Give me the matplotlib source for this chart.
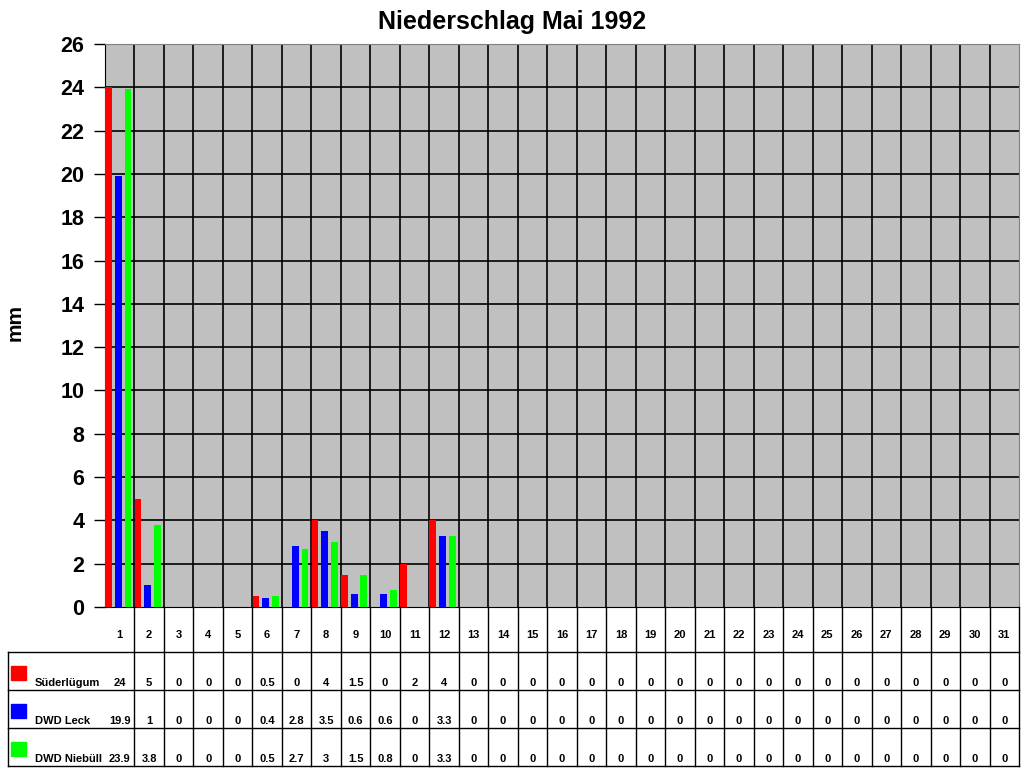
import matplotlib.pyplot as plt
import numpy as np

plt.rcParams['font.family'] = ['Liberation Sans', 'DejaVu Sans']
plt.rcParams['font.weight'] = 'bold'

days = list(range(1, 32))
sued = [24, 5, 0, 0, 0, 0.5, 0, 4, 1.5, 0, 2, 4] + [0] * 19
leck = [19.9, 1, 0, 0, 0, 0.4, 2.8, 3.5, 0.6, 0.6, 0, 3.3] + [0] * 19
nieb = [23.9, 3.8, 0, 0, 0, 0.5, 2.7, 3, 1.5, 0.8, 0, 3.3] + [0] * 19
names = ['Süderlügum', 'DWD Leck', 'DWD Niebüll']
colors = ['#FF0000', '#0000FF', '#00FF00']
yticks = list(range(0, 27, 2))

W, H = 1024, 768
fig = plt.figure(figsize=(W / 100, H / 100), dpi=100)

# plot area in pixels: x 105..1019, y 44..607
L, R, T, B = 105, 1019, 44, 607
ax = fig.add_axes([L / W, 1 - B / H, (R - L) / W, (B - T) / H])
ax.set_facecolor('#C0C0C0')

x = np.array(days)
offs = [-0.38, -0.05, 0.28]
for vals, c, o in zip([sued, leck, nieb], colors, offs):
    ax.bar(x + o, vals, width=0.23, color=c, zorder=3)

ax.set_xlim(0.5, 31.5)
ax.set_ylim(0, 26)
ax.set_yticks(yticks)
ax.set_yticklabels([str(v) for v in yticks], fontsize=15.5, fontweight='bold')
ax.tick_params(axis='y', length=8, width=1, direction='out', pad=7)
ax.set_xticks([])
for v in yticks[1:]:
    ax.axhline(v, color='black', lw=1.2, zorder=1)
for d in days[:-1]:
    ax.axvline(d + 0.5, color='black', lw=1.2, zorder=1)
for s in ['top', 'right']:
    ax.spines[s].set_color('#808080')
ax.spines['left'].set_color('black')
ax.spines['bottom'].set_color('black')
ax.set_ylabel('mm', fontsize=15, fontweight='bold')
ax.yaxis.set_label_coords(-80 / (R - L), 0.505)
fig.suptitle('Niederschlag Mai 1992', fontsize=18, fontweight='bold', y=0.987)

# data table under the chart
tax = fig.add_axes([L / W, 1 - 766 / H, (R - L) / W, (766 - B) / H])
tax.set_xlim(0.5, 31.5)
tax.set_ylim(159, 0)
tax.axis('off')
rows = [0, 45, 83, 121, 159]
left = 0.5 - (L - 8) / ((R - L) / 31)
lk = dict(color='black', lw=1, clip_on=False)
for d in days:
    tax.plot([d + 0.5, d + 0.5], [0, 159], **lk)
    tax.text(d, 28, str(d), ha='center', va='center', fontsize=8, fontweight='bold')
for yv in rows[1:]:
    tax.plot([left, 31.5], [yv, yv], **lk)
tax.plot([left, left], [45, 159], **lk)
for i, (nm, c, vals) in enumerate(zip(names, colors, [sued, leck, nieb])):
    y0 = rows[i + 1]
    tax.add_patch(plt.Rectangle((left + 0.1, y0 + 14), 0.5, 14, color=c, clip_on=False))
    tax.text(left + 0.9, y0 + 31, nm, ha='left', va='center', fontsize=8, fontweight='bold')
    for d, v in zip(days, vals):
        tax.text(d, y0 + 31, f'{v:g}', ha='center', va='center', fontsize=8, fontweight='bold')

fig.savefig('out.png', dpi=100)
